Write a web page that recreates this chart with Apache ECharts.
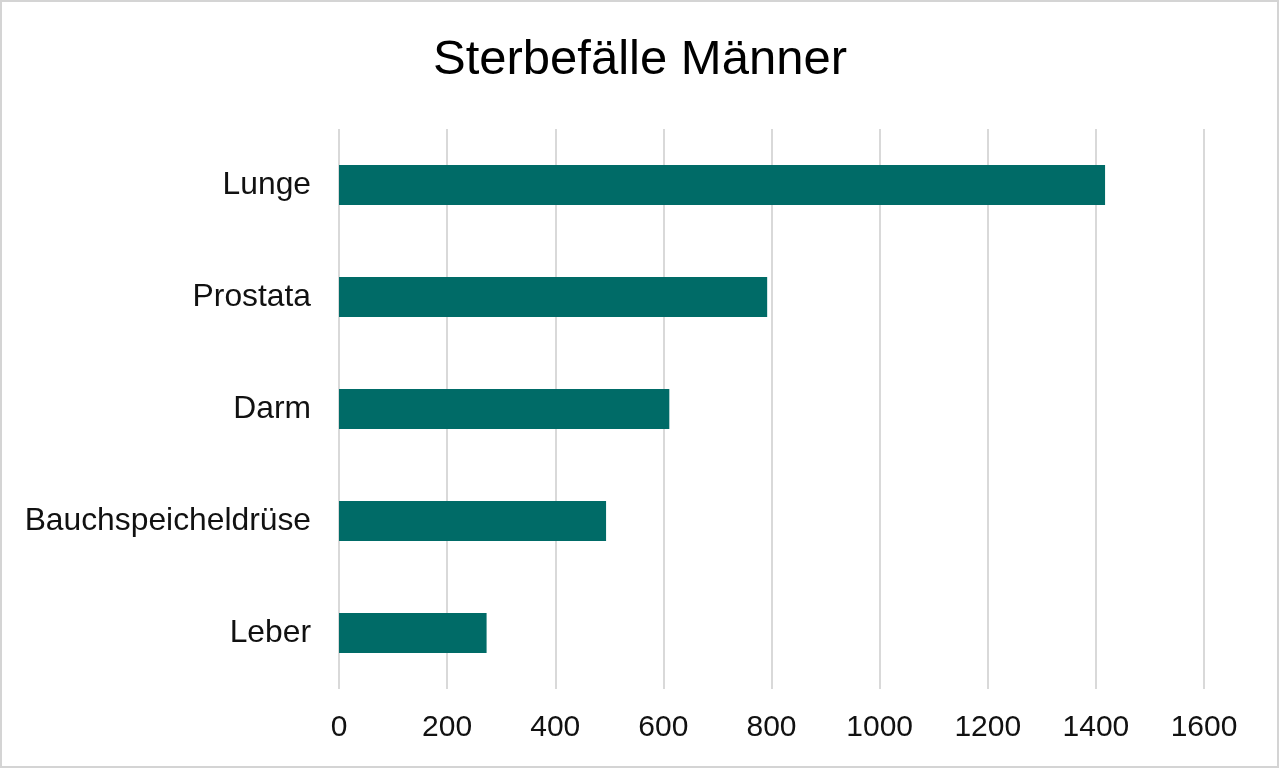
<!DOCTYPE html>
<html><head><meta charset="utf-8">
<script src="https://cdn.jsdelivr.net/npm/echarts@6/dist/echarts.min.js"></script>
<style>html,body{margin:0;padding:0;background:#fff}#c{width:1280px;height:769px}</style>
</head><body><div id="c"></div>
<script>
const categories = ['Lunge','Prostata','Darm','Bauchspeicheldrüse','Leber'];
const values = [1417, 792, 611, 494, 273];
const title = 'Sterbefälle Männer';
const chart = echarts.init(document.getElementById('c'));
const font = 'Liberation Sans, Arial, sans-serif';
chart.setOption({
  animation:false,
  backgroundColor:'#fff',
  graphic:[{type:'rect',shape:{x:1,y:1,width:1277,height:766},style:{fill:'none',stroke:'#d4d4d4',lineWidth:2},silent:true}],
  title:{text:title,left:'center',top:31,textStyle:{fontFamily:font,fontSize:49,fontWeight:'normal',color:'#000'}},
  grid:{left:339,right:76,top:129,bottom:80},
  xAxis:{type:'value',min:0,max:1600,interval:200,
    axisLine:{show:false},axisTick:{show:false},
    splitLine:{lineStyle:{color:'#d9d9d9',width:2}},
    axisLabel:{fontFamily:font,fontSize:30,color:'#111',margin:24,formatter:v=>String(v)}},
  yAxis:{type:'category',inverse:true,data:categories,
    axisLine:{show:false},axisTick:{show:false},
    axisLabel:{fontFamily:font,fontSize:31.8,color:'#111',margin:28,padding:[4,0,0,0]}},
  series:[{type:'bar',data:values,barWidth:40,itemStyle:{color:'#006b67'}}]
});
</script></body></html>
